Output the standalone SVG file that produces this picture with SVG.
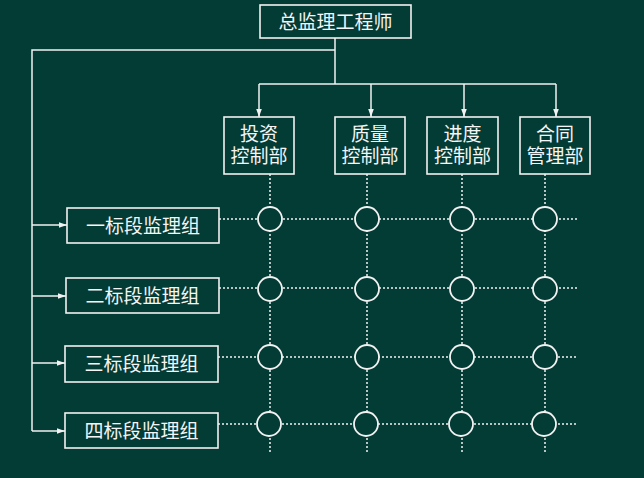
<svg xmlns="http://www.w3.org/2000/svg" width="644" height="478" viewBox="0 0 644 478">
<defs>
<style>
.box{fill:none;stroke:#f2f2f2;stroke-width:1.6}
.t{fill:#f5f5f5;font-family:"Liberation Sans","Noto Sans CJK SC",sans-serif;font-size:19px;text-anchor:middle}
.ln{fill:none;stroke:#f2f2f2;stroke-width:1.5}
.dot{fill:none;stroke:#f2f2f2;stroke-width:1.5;stroke-dasharray:2 2}
.c{fill:#033b35;stroke:#f2f2f2;stroke-width:1.8}
</style>
<marker id="ah" viewBox="0 0 10 10" refX="10" refY="5" markerWidth="8" markerHeight="8" orient="auto" markerUnits="userSpaceOnUse">
<path d="M0,1.5 L10,5 L0,8.5 Z" fill="#f2f2f2"/>
</marker>
</defs>
<rect width="644" height="478" fill="#033b35"/>
<g id="connectors">
<path class="ln" d="M335,38 V84 M335,50 H32 V431"/>
<path class="ln" d="M259,84 H556"/>
<path class="ln" d="M259,84 V117" marker-end="url(#ah)"/>
<path class="ln" d="M371,84 V117" marker-end="url(#ah)"/>
<path class="ln" d="M464,84 V117" marker-end="url(#ah)"/>
<path class="ln" d="M556,84 V117" marker-end="url(#ah)"/>
<path class="ln" d="M32,225 H67" marker-end="url(#ah)"/>
<path class="ln" d="M32,296 H66" marker-end="url(#ah)"/>
<path class="ln" d="M32,363 H65" marker-end="url(#ah)"/>
<path class="ln" d="M32,431 H65" marker-end="url(#ah)"/>
<path class="dot" d="M270,174 V453 M367,174 V453 M462,174 V453 M545,174 V453"/>
<path class="dot" d="M219,219 H577 M219,288 H577 M218,357 H577 M218,424 H577"/>
</g>
<g id="chief"><rect class="box" x="260" y="5" width="151" height="33"/><text class="t" x="335.5" y="29">总监理工程师</text></g>
<g id="dept-invest"><rect class="box" x="224" y="117" width="70" height="57"/><text class="t" x="259" y="141">投资</text><text class="t" x="259" y="163">控制部</text></g>
<g id="dept-quality"><rect class="box" x="335" y="117" width="70" height="57"/><text class="t" x="370" y="141">质量</text><text class="t" x="370" y="163">控制部</text></g>
<g id="dept-schedule"><rect class="box" x="427" y="117" width="71" height="57"/><text class="t" x="462.5" y="141">进度</text><text class="t" x="462.5" y="163">控制部</text></g>
<g id="dept-contract"><rect class="box" x="520" y="117" width="70" height="57"/><text class="t" x="555" y="141">合同</text><text class="t" x="555" y="163">管理部</text></g>
<g id="group-1"><rect class="box" x="67" y="208" width="152" height="35"/><text class="t" x="143" y="233">一标段监理组</text></g>
<g id="group-2"><rect class="box" x="66" y="278" width="153" height="35"/><text class="t" x="142.5" y="303">二标段监理组</text></g>
<g id="group-3"><rect class="box" x="65" y="346" width="153" height="36"/><text class="t" x="141.5" y="371">三标段监理组</text></g>
<g id="group-4"><rect class="box" x="65" y="413" width="153" height="35"/><text class="t" x="141.5" y="438">四标段监理组</text></g>
<g id="nodes">
<circle class="c" cx="270" cy="219" r="12"/><circle class="c" cx="367" cy="219" r="12"/><circle class="c" cx="462" cy="219" r="12"/><circle class="c" cx="545" cy="219" r="12"/>
<circle class="c" cx="270" cy="289" r="12"/><circle class="c" cx="367" cy="289" r="12"/><circle class="c" cx="462" cy="289" r="12"/><circle class="c" cx="545" cy="289" r="12"/>
<circle class="c" cx="270" cy="357" r="12"/><circle class="c" cx="367" cy="357" r="12"/><circle class="c" cx="462" cy="357" r="12"/><circle class="c" cx="545" cy="357" r="12"/>
<circle class="c" cx="269" cy="424" r="12"/><circle class="c" cx="366" cy="424" r="12"/><circle class="c" cx="461" cy="424" r="12"/><circle class="c" cx="544" cy="424" r="12"/>
</g>
</svg>
